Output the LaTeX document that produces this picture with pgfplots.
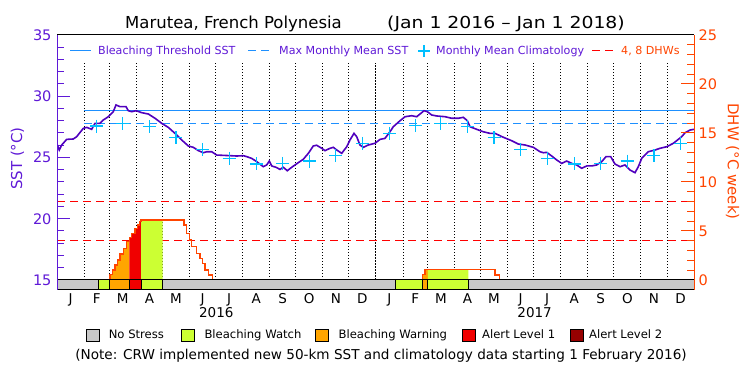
\documentclass[border=0pt]{standalone}
\usepackage{pgfplots}
\pgfplotsset{compat=1.18}
\usepackage{fontspec}
\setmainfont{DejaVu Sans}
\definecolor{purp}{RGB}{95,25,215}
\definecolor{sstline}{RGB}{80,0,190}
\definecolor{ored}{RGB}{255,69,0}
\definecolor{tblue}{RGB}{30,144,255}
\definecolor{ccyan}{RGB}{0,191,255}
\definecolor{nostress}{RGB}{200,200,200}
\definecolor{watch}{RGB}{204,255,51}
\definecolor{warn}{RGB}{255,165,0}
\definecolor{alertone}{RGB}{240,0,0}
\definecolor{alerttwo}{RGB}{150,0,0}
\newcommand{\fs}[1]{\fontsize{#1}{#1}\selectfont}
\pgfplotstableread{
day sst
0 26.1
2.6 25.61
5.4 26.02
11.1 26.48
18.7 26.51
22.6 26.7
30.2 27.38
34.1 27.46
39.8 27.3
43.6 27.79
49.3 27.79
53.1 28.06
58.9 28.33
64.6 28.74
67.7 29.29
72.3 29.15
79.2 29.15
81.8 28.82
85.7 28.74
90.7 28.82
97.2 28.66
104.8 28.55
112.5 28.2
120.1 27.79
127.7 27.46
135.4 26.97
143.1 26.43
150.7 25.94
156.4 25.83
162.2 25.56
167.9 25.39
171.8 25.47
177.5 25.47
183.3 25.2
198.5 25.15
206.2 25.12
213.8 25.15
217.7 25.07
223.4 24.93
229.2 24.66
236.7 24.25
240.6 24.39
243.6 24.71
246.4 24.31
251.3 24.2
255.9 24.03
259.7 24.2
264.3 23.92
269.3 24.2
276.9 24.58
282.6 24.85
288.4 25.34
294.1 25.94
298.0 26.0
303.8 25.75
307.5 25.56
313.3 25.75
317.1 25.83
321.0 25.61
326.7 25.34
332.5 25.88
336.2 26.43
340.8 26.97
343.9 26.7
347.7 26.02
351.5 25.83
357.2 26.02
364.9 26.16
370.7 26.48
376.4 26.56
382.1 27.1
385.9 27.51
393.6 28.0
399.4 28.33
407.0 28.41
412.8 28.33
416.6 28.55
421.2 28.82
425.0 28.74
430.0 28.47
435.7 28.39
445.3 28.33
453.0 28.2
460.5 28.2
466.3 28.28
470.9 28.0
474.0 27.51
481.6 27.3
489.2 27.1
496.9 26.97
502.6 26.97
512.2 26.65
521.8 26.37
529.4 26.1
537.1 26.02
546.6 25.83
554.3 25.47
558.1 25.39
562.0 25.42
567.7 25.12
573.4 24.8
579.2 24.52
584.9 24.71
590.7 24.52
596.4 24.39
602.1 24.12
607.9 24.31
613.6 24.31
619.3 24.39
625.1 24.66
630.0 25.07
635.4 25.07
640.3 24.47
646.1 24.25
651.8 24.39
657.5 23.98
663.3 23.76
667.1 24.25
671.0 24.93
678.5 25.47
686.2 25.61
692.0 25.75
699.7 25.88
707.3 26.16
713.0 26.48
716.9 26.7
720.7 27.02
726.4 27.24
731 27.3
}\ssttable
\pgfplotstableread{
day clim
45.5 27.57
75.5 27.79
106 27.51
136.5 26.62
167 25.67
197.5 24.93
228.5 24.47
259 24.52
289.5 24.71
320 25.15
350.5 26.16
381.5 26.97
411 27.6
440.5 27.79
471 27.51
501.5 26.62
532 25.67
562.5 24.93
593.5 24.47
624 24.52
654.5 24.71
685 25.15
715.5 26.16
}\climtable
\begin{document}
\begin{tikzpicture}[x=1pt,y=1pt]
\path[use as bounding box, fill=white] (0,0) rectangle (750,375);
% ---------- SST axis ----------
\begin{axis}[at={(57pt,85pt)}, anchor=south west, scale only axis,
  width=637pt, height=255pt,
  xmin=0, xmax=731, ymin=14.1837, ymax=35,
  axis x line=none, axis y line*=left, y axis line style={draw=none},
  ytick={15,20,25,30,35}, minor y tick num=4, tick align=inside,
  major tick length=13pt, minor tick length=7pt,
  tick style={purp, line width=1pt},
  yticklabel style={font=\fs{14.5}, text=purp, xshift=-2pt},
  /pgf/number format/assume math mode=true]
\pgfplotsinvokeforeach{31,60,91,121,152,182,213,244,274,305,335,397,425,456,486,517,547,578,609,639,670,700}{
  \addplot[black, line width=0.9pt, dash pattern=on 0.9pt off 2.1pt] coordinates {(#1,15) (#1,32.7)};
}
\addplot[black, line width=1pt, dash pattern=on 1.5pt off 1.5pt] coordinates {(366,15) (366,32.7)};
\addplot[tblue, line width=1pt] coordinates {(31,28.8) (731,28.8)};
\addplot[tblue, line width=1pt, dash pattern=on 8pt off 5pt] coordinates {(31,27.8) (731,27.8)};
\addplot[red, line width=1pt, dash pattern=on 8pt off 5pt] coordinates {(0,18.2) (731,18.2)};
\addplot[red, line width=1pt, dash pattern=on 8pt off 5pt] coordinates {(0,21.4) (731,21.4)};
\addplot[sstline, line width=1.6pt] table[x=day, y=sst] {\ssttable};
\addplot[only marks, mark=+, mark size=6.5pt, ccyan, mark options={line width=1.2pt}] table[x=day, y=clim] {\climtable};
\end{axis}
% ---------- DHW axis ----------
\begin{axis}[at={(57pt,85pt)}, anchor=south west, scale only axis,
  width=637pt, height=255pt,
  xmin=0, xmax=731, ymin=-1.0204, ymax=25,
  axis x line=none, axis y line*=right, y axis line style={draw=none},
  ytick={0,5,10,15,20,25}, minor y tick num=4, tick align=inside,
  major tick length=13pt, minor tick length=7pt,
  tick style={ored, line width=1pt},
  yticklabel style={font=\fs{14.5}, text=ored, xshift=1pt},
  /pgf/number format/assume math mode=true]
% stress-coloured fill below DHW
\addplot[const plot, fill=warn, draw=none] coordinates {(60.8,0) (60.8,0.58) (63.5,1.02) (66.6,1.53) (69.2,2.04) (72.3,2.65) (76.1,3.23) (80.0,3.91) (83.0,0)} \closedcycle;
\addplot[const plot, fill=alertone, draw=none] coordinates {(83.0,0) (83.0,4.35) (85.7,4.76) (89.5,5.27) (92.1,5.61) (94.4,5.95) (96.4,0)} \closedcycle;
\addplot[const plot, fill=watch, draw=none] coordinates {(96.4,0) (96.4,6.12) (121.3,0)} \closedcycle;
\addplot[const plot, fill=warn, draw=none] coordinates {(419.2,0) (419.2,0.6) (422.3,1.1) (425.5,0)} \closedcycle;
\addplot[const plot, fill=watch, draw=none] coordinates {(425.5,0) (425.5,1.1) (472.0,0)} \closedcycle;
% DHW curve
\addplot[ored, line width=1.2pt, const plot] coordinates {(60.8,0) (60.8,0.58) (63.5,1.02) (66.6,1.53) (69.2,2.04) (72.3,2.65) (76.1,3.23) (80.0,3.91) (83.0,4.35) (85.7,4.76) (89.5,5.27) (92.1,5.61) (94.4,5.95) (96.4,6.12) (145.7,5.61) (148.8,4.76) (151.8,4.08) (154.6,3.4) (160.3,2.72) (164.1,2.21) (167.2,1.7) (169.8,1.02) (173.6,0.51) (178.2,0)};
\addplot[ored, line width=1.2pt, const plot] coordinates {(419.2,0) (419.2,0.6) (422.3,1.1) (502.6,0.51) (507.6,0)};
% stress bar
\addplot[fill=nostress, draw=black, line width=1pt] coordinates {(0,-1.0204) (47.4,-1.0204) (47.4,0) (0,0)} -- cycle;
\addplot[fill=watch, draw=black, line width=1pt] coordinates {(47.4,-1.0204) (60.8,-1.0204) (60.8,0) (47.4,0)} -- cycle;
\addplot[fill=warn, draw=black, line width=1pt] coordinates {(60.8,-1.0204) (83.0,-1.0204) (83.0,0) (60.8,0)} -- cycle;
\addplot[fill=alertone, draw=black, line width=1pt] coordinates {(83.0,-1.0204) (96.4,-1.0204) (96.4,0) (83.0,0)} -- cycle;
\addplot[fill=watch, draw=black, line width=1pt] coordinates {(96.4,-1.0204) (121.3,-1.0204) (121.3,0) (96.4,0)} -- cycle;
\addplot[fill=nostress, draw=black, line width=1pt] coordinates {(121.3,-1.0204) (388.7,-1.0204) (388.7,0) (121.3,0)} -- cycle;
\addplot[fill=watch, draw=black, line width=1pt] coordinates {(388.7,-1.0204) (419.2,-1.0204) (419.2,0) (388.7,0)} -- cycle;
\addplot[fill=warn, draw=black, line width=1pt] coordinates {(419.2,-1.0204) (425.5,-1.0204) (425.5,0) (419.2,0)} -- cycle;
\addplot[fill=watch, draw=black, line width=1pt] coordinates {(425.5,-1.0204) (472.0,-1.0204) (472.0,0) (425.5,0)} -- cycle;
\addplot[fill=nostress, draw=black, line width=1pt] coordinates {(472.0,-1.0204) (731,-1.0204) (731,0) (472.0,0)} -- cycle;
\end{axis}
% ---------- frame ----------
\draw[black, line width=1pt] (57,340) -- (694,340);
\draw[black, line width=1pt] (57,85) -- (694,85);
\draw[purp, line width=1pt] (57,85) -- (57,340);
\draw[ored, line width=1pt] (694,85) -- (694,340);
% ---------- titles and labels ----------
\node[anchor=base west, font=\fs{16.5}, inner sep=0pt] at (125,346) {Marutea, French Polynesia};
\node[anchor=base west, font=\fs{16.5}, inner sep=0pt] at (387,346) {\scalebox{1.14}[1]{(Jan 1 2016 \textendash{} Jan 1 2018)}};
\node[rotate=90, font=\fs{15}, text=purp] at (17.5,216.5) {SST (°C)};
\node[rotate=-90, font=\fs{15}, text=ored] at (732.5,213.5) {DHW (°C week)};
% top legend
\draw[tblue, line width=1pt] (70,324) -- (91,324);
\node[anchor=base west, font=\fs{11.1}, text=purp, inner sep=0pt] at (98,320) {Bleaching Threshold SST};
\draw[tblue, line width=1pt, dash pattern=on 8pt off 5pt] (248,324) -- (272,324);
\node[anchor=base west, font=\fs{11.1}, text=purp, inner sep=0pt] at (279,320) {Max Monthly Mean SST};
\draw[ccyan, line width=1.2pt] (418,324) -- (430,324) (424,318) -- (424,330);
\node[anchor=base west, font=\fs{11.1}, text=purp, inner sep=0pt] at (436,320) {Monthly Mean Climatology};
\draw[red, line width=1pt, dash pattern=on 8pt off 5pt] (592,324) -- (616,324);
\node[anchor=base west, font=\fs{11.1}, text=ored, inner sep=0pt] at (621,320) {4, 8 DHWs};
% month and year labels
\foreach \d/\m in {15.5/J,45.5/F,75.5/M,106/A,136.5/M,167/J,197.5/J,228.5/A,259/S,289.5/O,320/N,350.5/D,381.5/J,411/F,440.5/M,471/A,501.5/M,532/J,562.5/J,593.5/A,624/S,654.5/O,685/N,715.5/D}
  \node[anchor=base, font=\fs{13.5}, inner sep=0pt] at ({57+\d*0.871409},71.5) {\m};
\node[anchor=base, font=\fs{13.5}, inner sep=0pt] at (216.3,57) {2016};
\node[anchor=base, font=\fs{13.5}, inner sep=0pt] at (534.6,57) {2017};
% bottom legend
\draw[fill=nostress, line width=0.8pt] (86,34) rectangle (99,46);
\node[anchor=base west, font=\fs{11.6}, inner sep=0pt] at (108.6,36) {No Stress};
\draw[fill=watch, line width=0.8pt] (181.5,34) rectangle (194.5,46);
\node[anchor=base west, font=\fs{11.6}, inner sep=0pt] at (204.3,36) {Bleaching Watch};
\draw[fill=warn, line width=0.8pt] (315.5,34) rectangle (328.5,46);
\node[anchor=base west, font=\fs{11.6}, inner sep=0pt] at (338.4,36) {Bleaching Warning};
\draw[fill=alertone, line width=0.8pt] (462.5,34) rectangle (475.5,46);
\node[anchor=base west, font=\fs{11.6}, inner sep=0pt] at (482,36) {Alert Level 1};
\draw[fill=alerttwo, line width=0.8pt] (570,34) rectangle (583,46);
\node[anchor=base west, font=\fs{11.6}, inner sep=0pt] at (589,36) {Alert Level 2};
\node[anchor=base, font=\fs{13.6}, inner sep=0pt] at (381,16) {(Note: CRW implemented new 50-km SST and climatology data starting 1 February 2016)};
\end{tikzpicture}
\end{document}
